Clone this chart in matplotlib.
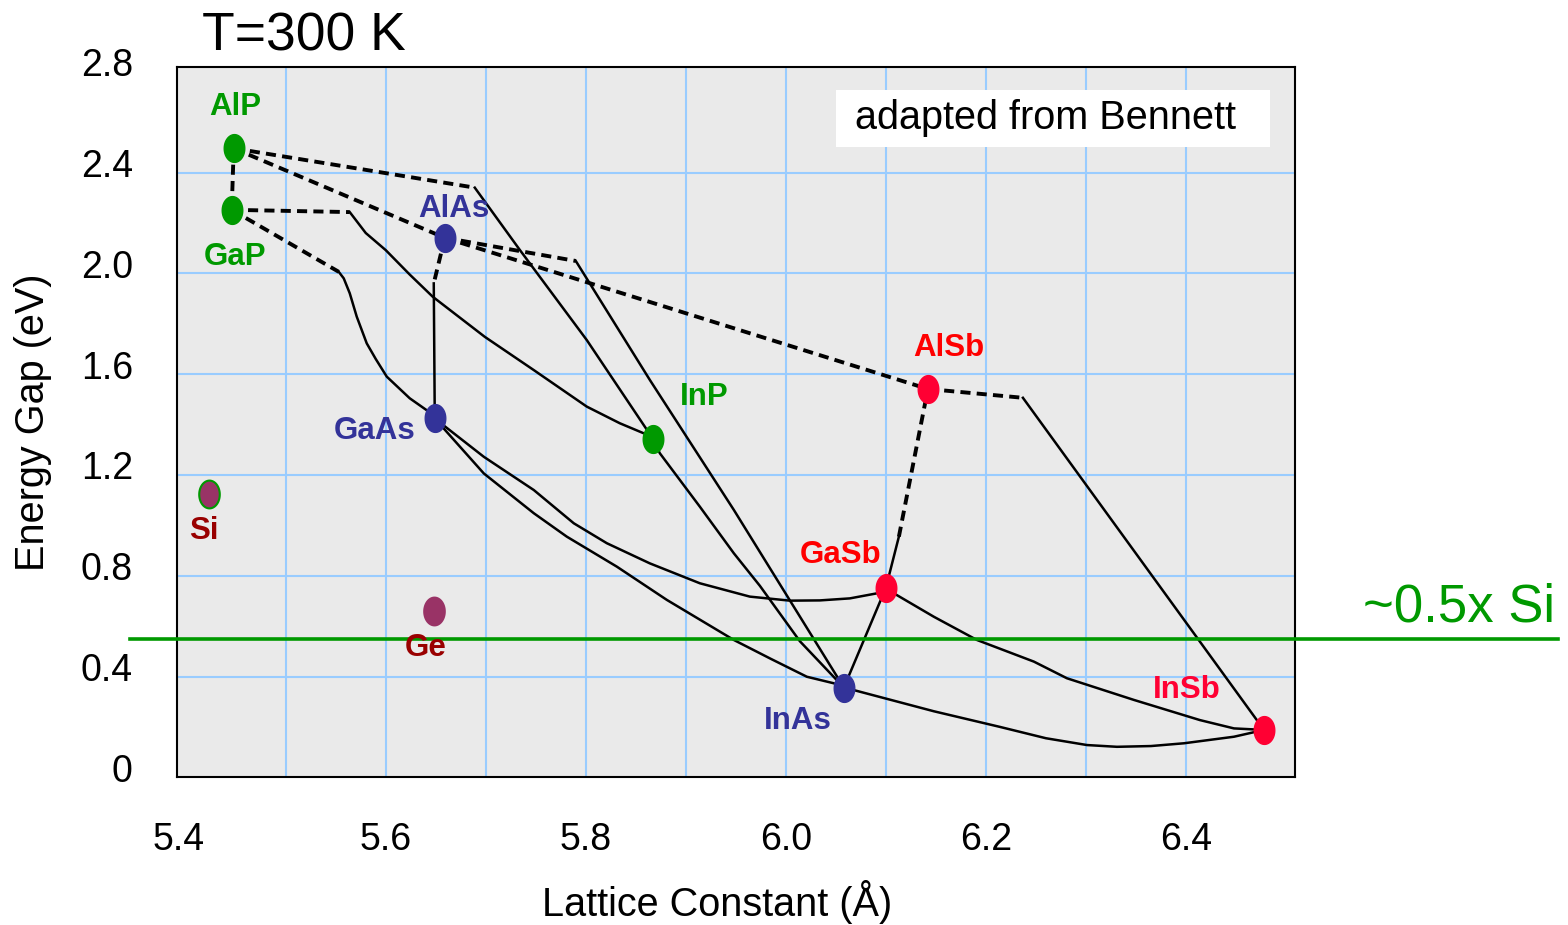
import matplotlib
matplotlib.use("Agg")
import matplotlib.pyplot as plt
from matplotlib.path import Path
from matplotlib.patches import Rectangle
from matplotlib.transforms import ScaledTranslation
import numpy as np

plt.rcParams['font.family'] = ['Liberation Sans', 'DejaVu Sans']

# binary III-V compounds: lattice constant (A) and energy gap (eV) at 300 K
names = ['AlP', 'GaP', 'AlAs', 'GaAs', 'InP', 'AlSb', 'GaSb', 'InAs', 'InSb']
lattice = [5.448, 5.446, 5.659, 5.649, 5.867, 6.142, 6.100, 6.058, 6.478]
gap = [2.496, 2.252, 2.141, 1.424, 1.344, 1.541, 0.752, 0.356, 0.188]
point_colors = ['#009900', '#009900', '#333399', '#333399', '#009900',
                '#FF0033', '#FF0033', '#333399', '#FF0033']
label_colors = ['#009900', '#009900', '#333399', '#333399', '#009900',
                '#FF0000', '#FF0000', '#333399', '#FF0033']
# label offsets from the point, in pixels
label_dx = [2, 3, 9, -60, 51, 21, -45, -46, -77]
label_dy = [41, -47, 29, -13, 42, 41, 33, -33, 40]

# group IV elements
elem_names = ['Si', 'Ge']
elem_lattice = [5.423, 5.648]
elem_gap = [1.123, 0.661]
elem_dx = [-5, -8]
elem_dy = [-37, -37]

# half of the Si gap
half_si_gap = 0.549

# alloy lines, (lattice, gap) pairs
# dashed = indirect gap, solid = direct gap
algap_ind = [(5.448, 2.496), (5.446, 2.252)]
alinp_ind = [(5.448, 2.496), (5.689, 2.340)]
alinp_dir = [(5.689, 2.340), (5.734, 2.093), (5.801, 1.735), (5.867, 1.344)]
alasp_ind = [(5.448, 2.496), (5.659, 2.141)]
alinas_ind = [(5.659, 2.141), (5.790, 2.049)]
alinas_dir = [(5.790, 2.049), (5.864, 1.577), (5.948, 1.061), (6.058, 0.356)]
alassb_ind = [(5.659, 2.141), (6.142, 1.541)]
gainp_ind = [(5.446, 2.252), (5.564, 2.243)]
gainp_dir = [(5.564, 2.243), (5.580, 2.160), (5.600, 2.092), (5.624, 1.995),
             (5.647, 1.907), (5.699, 1.748), (5.748, 1.616), (5.801, 1.471),
             (5.834, 1.405), (5.858, 1.365), (5.867, 1.344)]
gaasp_ind = [(5.446, 2.252), (5.553, 2.006)]
gaasp_dir = [(5.553, 2.006), (5.558, 1.980), (5.564, 1.921), (5.571, 1.828),
             (5.581, 1.722), (5.590, 1.660), (5.601, 1.590), (5.624, 1.504),
             (5.643, 1.451), (5.649, 1.424)]
algaas_ind = [(5.659, 2.141), (5.648, 1.960)]
algaas_dir = [(5.648, 1.960), (5.649, 1.424)]
gaassb_dir = [(5.649, 1.424), (5.698, 1.272), (5.748, 1.140), (5.788, 1.008),
              (5.821, 0.929), (5.864, 0.849), (5.914, 0.770), (5.964, 0.717),
              (6.004, 0.701), (6.034, 0.702), (6.064, 0.710), (6.091, 0.730),
              (6.100, 0.752)]
ingaas_dir = [(5.649, 1.424), (5.698, 1.206), (5.748, 1.048), (5.781, 0.955),
              (5.831, 0.836), (5.881, 0.704), (5.948, 0.545), (5.985, 0.470),
              (6.021, 0.399), (6.048, 0.373), (6.058, 0.356)]
inasp_dir = [(5.867, 1.344), (5.874, 1.286), (5.914, 1.074), (5.948, 0.889),
             (5.974, 0.760), (6.014, 0.540), (6.058, 0.356)]
inas_gasb = [(6.058, 0.356), (6.100, 0.752)]
algasb_dir = [(6.100, 0.752), (6.113, 0.955)]
algasb_ind = [(6.113, 0.955), (6.142, 1.541)]
alinsb_ind = [(6.142, 1.541), (6.237, 1.506)]
alinsb_dir = [(6.237, 1.506), (6.478, 0.188)]
gainsb_dir = [(6.100, 0.752), (6.111, 0.723), (6.148, 0.637), (6.191, 0.545),
              (6.248, 0.459), (6.281, 0.393), (6.348, 0.307), (6.414, 0.227),
              (6.448, 0.194), (6.478, 0.188)]
inassb_dir = [(6.058, 0.356), (6.068, 0.346), (6.148, 0.262), (6.214, 0.200),
              (6.260, 0.155), (6.301, 0.128), (6.331, 0.121), (6.365, 0.124),
              (6.398, 0.135), (6.448, 0.161), (6.478, 0.188)]

indirect = [algap_ind, alinp_ind, alasp_ind, alinas_ind, alassb_ind, gainp_ind,
            gaasp_ind, algaas_ind, algasb_ind, alinsb_ind]
direct = [alinp_dir, alinas_dir, gainp_dir, gaasp_dir, algaas_dir, gaassb_dir,
          ingaas_dir, inasp_dir, inas_gasb, algasb_dir, alinsb_dir, gainsb_dir,
          inassb_dir]

x_ticks = [5.4, 5.6, 5.8, 6.0, 6.2, 6.4]
y_ticks = [0, 0.4, 0.8, 1.2, 1.6, 2.0, 2.4, 2.8]
x_grid = [5.5, 5.6, 5.7, 5.8, 5.9, 6.0, 6.1, 6.2, 6.3, 6.4]
y_grid = [0.4, 0.8, 1.2, 1.6, 2.0, 2.4]

fig = plt.figure(figsize=(15.68, 9.25), dpi=100)
ax = fig.add_axes([0.11307, 0.15968, 0.71282, 0.76822])
ax.set_facecolor('#EAEAEA')

for v in x_grid:
    ax.axvline(v, color='#99CCFF', lw=1.5, zorder=0.5)
for v in y_grid:
    ax.axhline(v, color='#99CCFF', lw=1.5, zorder=0.5)

for seg in direct:
    xs, ys = zip(*seg)
    ax.plot(xs, ys, color='black', lw=1.8, zorder=2)
for seg in indirect:
    xs, ys = zip(*seg)
    ax.plot(xs, ys, color='black', lw=2.8, ls=(0, (2.6, 1.6)), zorder=2)

# oval marker, taller than wide
t = np.linspace(0, 2 * np.pi, 80)
oval = Path(np.column_stack([0.74 * np.cos(t), np.sin(t)]), closed=True)

for n, a, e, c, lc, dx, dy in zip(names, lattice, gap, point_colors,
                                   label_colors, label_dx, label_dy):
    ax.plot(a, e, marker=oval, ms=20, color=c, mec=c, ls='none', zorder=5)
    ax.annotate(n, (a, e), xytext=(dx, dy), textcoords='offset pixels',
                ha='center', va='center', fontsize=22.5, fontweight='bold',
                color=lc, zorder=6)

for n, a, e, dx, dy in zip(elem_names, elem_lattice, elem_gap, elem_dx, elem_dy):
    edge = '#009900' if n == 'Si' else '#993366'
    ax.plot(a, e, marker=oval, ms=20, color='#993366', mec=edge, mew=1.5,
            ls='none', zorder=5)
    ax.annotate(n, (a, e), xytext=(dx, dy), textcoords='offset pixels',
                ha='center', va='center', fontsize=22.5, fontweight='bold',
                color='#990000', zorder=6)

ax.axhline(half_si_gap, xmin=-0.0423, xmax=1.2353, color='#009900', lw=2.6,
           clip_on=False, zorder=4)

ax.set_xlim(5.3916, 6.509)
ax.set_ylim(0, 2.82)
ax.set_xticks(x_ticks)
ax.set_xticklabels([f'{v:.1f}' for v in x_ticks])
ax.set_yticks(y_ticks)
ax.set_yticklabels(['0'] + [f'{v:.1f}' for v in y_ticks[1:]])
ax.tick_params(length=0, labelsize=27, pad=32)
for lab in ax.get_yticklabels():
    lab.set_transform(lab.get_transform() +
                      ScaledTranslation(0, 0.095, fig.dpi_scale_trans))
# the first x label sits on the axis edge in the original
first = ax.get_xticklabels()[0]
first.set_transform(first.get_transform() +
                    ScaledTranslation(-0.07, 0, fig.dpi_scale_trans))
for sp in ax.spines.values():
    sp.set_linewidth(1.5)
    sp.set_color('black')
    sp.set_zorder(3)

ax.set_xlabel('Lattice Constant (Å)', fontsize=28.5)
ax.xaxis.set_label_coords(0.4833, -0.1445)
ax.set_ylabel('Energy Gap (eV)', fontsize=28.5)
ax.yaxis.set_label_coords(-0.112, 0.5)

ax.add_patch(Rectangle((0.5893, 0.8874), 0.3883, 0.0798, transform=ax.transAxes,
                       facecolor='white', edgecolor='none', zorder=6))
ax.text(0.6062, 0.928, 'adapted from Bennett', transform=ax.transAxes,
        ha='left', va='center', fontsize=28.5, zorder=7)

fig.text(0.1286, 0.9459, 'T=300 K', fontsize=38.5, va='baseline')
fig.text(0.9917, 0.3279, '~0.5x Si', fontsize=38, color='#009900',
         ha='right', va='baseline')

fig.savefig('out.png', dpi=100)
